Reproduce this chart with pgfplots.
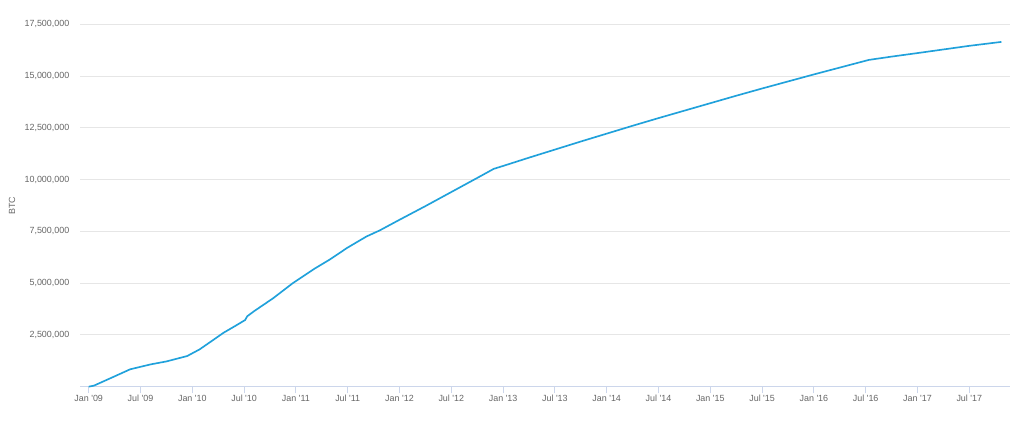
\documentclass[border=0pt]{standalone}
\usepackage{pgfplots}
\pgfplotsset{compat=1.18}
\usepackage{fontspec}
\setmainfont{Liberation Sans}
\definecolor{linec}{RGB}{32,161,219}
\definecolor{gridc}{RGB}{230,230,230}
\definecolor{axisc}{RGB}{204,214,235}
\definecolor{labc}{RGB}{102,102,102}
\begin{document}
\begin{tikzpicture}
\path (0pt,0pt) rectangle (768pt,316.5pt);
\begin{axis}[
  at={(60pt,26.475pt)}, anchor=south west,
  scale only axis,
  width=697.5pt, height=271.8pt,
  xmin=2008.916, xmax=2017.893,
  ymin=0, ymax=17500000,
  axis x line*=bottom, axis y line*=left,
  y axis line style={draw=none},
  x axis line style={draw=axisc, line width=0.75pt},
  xtick={2009,2009.5,2010,2010.5,2011,2011.5,2012,2012.5,2013,2013.5,2014,2014.5,2015,2015.5,2016,2016.5,2017,2017.5},
  xticklabels={Jan \textquotesingle09,Jul \textquotesingle09,Jan \textquotesingle10,Jul \textquotesingle10,Jan \textquotesingle11,Jul \textquotesingle11,Jan \textquotesingle12,Jul \textquotesingle12,Jan \textquotesingle13,Jul \textquotesingle13,Jan \textquotesingle14,Jul \textquotesingle14,Jan \textquotesingle15,Jul \textquotesingle15,Jan \textquotesingle16,Jul \textquotesingle16,Jan \textquotesingle17,Jul \textquotesingle17},
  ytick={2500000,5000000,7500000,10000000,12500000,15000000,17500000},
  scaled y ticks=false,
  /pgf/number format/fixed,
  /pgf/number format/1000 sep={,},
  /pgf/number format/assume math mode=true,
  tick label style={font=\fontsize{6.7pt}{7pt}\selectfont, text=labc},
  xtick style={draw=axisc, line width=0.75pt},
  tick align=outside,
  major tick length=5pt,
  ytick style={draw=none},
  yticklabel style={xshift=0.5pt},
  xticklabel style={yshift=2pt},
  ymajorgrids, grid style={draw=gridc, line width=0.75pt},
  ylabel={BTC},
  ylabel style={at={(axis description cs:-0.073,0.5)}, anchor=center, rotate=0, font=\fontsize{6.7pt}{7pt}\selectfont, text=labc},
  clip=false,
]
\addplot[color=linec, line width=1.25pt, no marks, line join=round] coordinates {
(2009.00,0)
(2009.05,50000)
(2009.25,500000)
(2009.40,840000)
(2009.50,960000)
(2009.60,1080000)
(2009.75,1220000)
(2009.95,1480000)
(2010.07,1800000)
(2010.20,2250000)
(2010.30,2600000)
(2010.42,2950000)
(2010.51,3220000)
(2010.53,3400000)
(2010.60,3660000)
(2010.78,4270000)
(2010.97,5000000)
(2011.18,5700000)
(2011.33,6150000)
(2011.42,6450000)
(2011.49,6690000)
(2011.68,7250000)
(2011.81,7550000)
(2012.00,8060000)
(2012.25,8720000)
(2012.50,9400000)
(2012.75,10080000)
(2012.91,10520000)
(2013.00,10660000)
(2013.25,11060000)
(2013.50,11450000)
(2013.75,11840000)
(2014.00,12220000)
(2014.25,12600000)
(2014.50,12970000)
(2014.75,13330000)
(2015.00,13690000)
(2015.25,14050000)
(2015.50,14400000)
(2015.75,14740000)
(2016.00,15080000)
(2016.25,15410000)
(2016.53,15780000)
(2016.75,15940000)
(2017.00,16110000)
(2017.25,16285000)
(2017.50,16460000)
(2017.81,16650000)
};
\end{axis}
\end{tikzpicture}
\end{document}
